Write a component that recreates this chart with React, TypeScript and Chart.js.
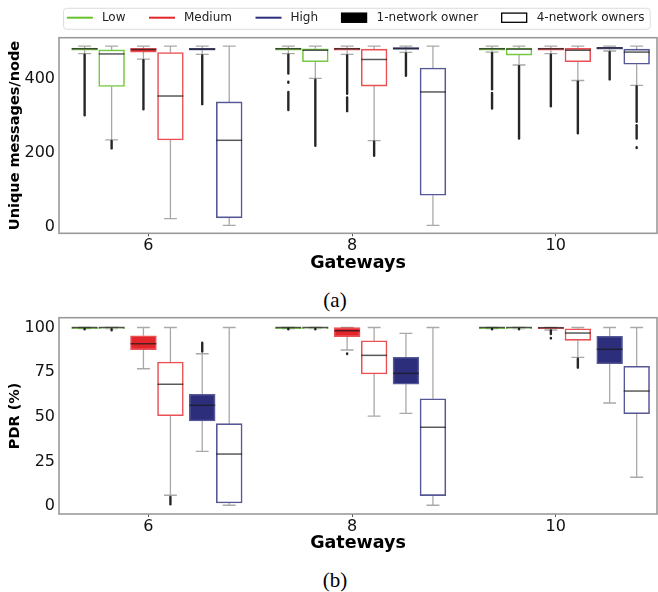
import React, { useEffect, useRef } from 'react';
import { Chart, registerables } from 'chart.js';

Chart.register(...registerables);
Chart.defaults.font.family = "'DejaVu Sans', sans-serif";

// ---------- data ----------
const gateways = [6, 8, 10];
const gatewayTicks = [6, 8, 10];
const msgTicks = [0, 200, 400];
const pdrTicks = [0, 25, 50, 75, 100];

const levelLabels = ['Low', 'Medium', 'High'];
const ownerLabels = ['1-network owner', '4-network owners'];

// rows (6, 8, 10 gateways): [lower whisker, Q1, median, Q3, upper whisker]
// (a) Unique messages/node
const msgLow1 = [[469, 478, 482, 484, 489], [469, 478, 482, 484, 489], [473, 478, 482, 484, 489]];
const msgLow4 = [[235, 380, 468, 479, 489], [402, 447, 478, 482, 489], [438, 465, 481, 484, 489]];
const msgMed1 = [[454, 473, 480, 483, 489], [467, 478, 482, 484, 489], [469, 478, 482, 484, 489]];
const msgMed4 = [[22, 235, 354, 472, 489], [233, 381, 453, 481, 489], [396, 447, 478, 483, 489]];
const msgHigh1 = [[467, 478, 481, 483, 489], [472, 480, 483, 485, 489], [476, 481, 484, 486, 489]];
const msgHigh4 = [[3.5, 24, 234, 338, 489], [3.5, 85, 365, 430, 489], [383, 440, 473, 481, 489]];
// outlier ranges [from, to]
const msgLow1Out = [[[302, 466]], [[415, 466], [390, 393], [316, 365]], [[372, 470], [320, 362]]];
const msgLow4Out = [[[212, 232]], [[219, 398]], [[239, 435]]];
const msgMed1Out = [[[318, 451]], [[360, 464], [313, 350]], [[326, 466]]];
const msgMed4Out = [[], [[192, 230]], [[253, 393]]];
const msgHigh1Out = [[[332, 464]], [[409, 469]], [[399, 473]]];
const msgHigh4Out = [[], [], [[284, 380], [239, 275], [213, 215]]];

// (b) PDR (%)
const pdrLow1 = [[99.4, 99.4, 100, 100, 100], [99.4, 99.4, 100, 100, 100], [99.4, 99.4, 100, 100, 100]];
const pdrLow4 = [[99.4, 99.4, 100, 100, 100], [99.4, 99.4, 100, 100, 100], [99.4, 99.4, 100, 100, 100]];
const pdrMed1 = [[76.9, 87.6, 90.9, 95.4, 100], [87.4, 94.9, 98.2, 99.9, 100], [98.6, 99.4, 99.9, 100, 100]];
const pdrMed4 = [[6, 50.6, 68.2, 80.7, 100], [50.4, 74, 84.4, 92.6, 100], [83.3, 92.8, 96.9, 99.3, 100]];
const pdrHigh1 = [[30.6, 47.6, 56.4, 62.6, 85.3], [51.9, 68.2, 74.3, 83.3, 96.7], [57.7, 79.7, 87.8, 95.1, 100]];
const pdrHigh4 = [[0.4, 1.7, 29.1, 46.1, 100], [0.4, 5.8, 44.1, 60.1, 100], [16.1, 51.7, 64.4, 78.3, 100]];
const pdrLow1Out = [[[99.0, 99.2]], [[99.0, 99.2]], [[99.0, 99.2]]];
const pdrLow4Out = [[[98.5, 99.1]], [[99.0, 99.2]], [[99.0, 99.2]]];
const pdrMed1Out = [[], [[85.1, 85.5]], [[96.3, 98.3], [93.9, 94.2]]];
const pdrMed4Out = [[[1, 5]], [], [[77.5, 82.5]]];
const pdrHigh1Out = [[[86.5, 91.5]], [], []];
const pdrHigh4Out = [[], [], []];

// ---------- styles ----------
const levelColors = ['#66c32c', '#e3262b', '#2c2e7c'];
const levelEdges = ['rgba(102,195,44,0.9)', 'rgba(227,38,43,0.8)', 'rgba(44,46,124,0.8)'];
const PAIR_START = -0.4929;
const PAIR_STEP = 0.5773;
const HALF_PAIR = 0.1325;
const BOX_W = 25.8;

const boxPlugin = {
  id: 'boxDetails',
  beforeDatasetsDraw(chart: any) {
    const { ctx } = chart;
    const y = chart.scales.y;
    ctx.save();
    ctx.strokeStyle = '#a9a9a9';
    ctx.lineWidth = 1.3;
    chart.data.datasets.forEach((ds: any, di: number) => {
      const meta = chart.getDatasetMeta(di);
      meta.data.forEach((el: any, i: number) => {
        const [lo, q1, , q3, hi] = ds.stats[i];
        const cx = el.x;
        const w = el.width;
        ctx.beginPath();
        ctx.moveTo(cx, y.getPixelForValue(q1));
        ctx.lineTo(cx, y.getPixelForValue(lo));
        ctx.moveTo(cx, y.getPixelForValue(q3));
        ctx.lineTo(cx, y.getPixelForValue(hi));
        ctx.moveTo(cx - w / 4, y.getPixelForValue(lo));
        ctx.lineTo(cx + w / 4, y.getPixelForValue(lo));
        ctx.moveTo(cx - w / 4, y.getPixelForValue(hi));
        ctx.lineTo(cx + w / 4, y.getPixelForValue(hi));
        ctx.stroke();
      });
    });
    ctx.restore();
  },
  afterDatasetsDraw(chart: any) {
    const { ctx } = chart;
    const y = chart.scales.y;
    ctx.save();
    chart.data.datasets.forEach((ds: any, di: number) => {
      const meta = chart.getDatasetMeta(di);
      meta.data.forEach((el: any, i: number) => {
        const med = ds.stats[i][2];
        const cx = el.x;
        const w = el.width;
        ctx.strokeStyle = 'rgba(25,25,25,0.72)';
        ctx.lineWidth = 1.5;
        ctx.lineCap = 'butt';
        ctx.beginPath();
        ctx.moveTo(cx - w / 2, y.getPixelForValue(med));
        ctx.lineTo(cx + w / 2, y.getPixelForValue(med));
        ctx.stroke();
        ctx.strokeStyle = 'rgba(0,0,0,0.85)';
        ctx.lineWidth = 2.4;
        ctx.lineCap = 'round';
        (ds.fliers[i] || []).forEach((seg: number[]) => {
          ctx.beginPath();
          ctx.moveTo(cx, y.getPixelForValue(seg[0]));
          ctx.lineTo(cx, y.getPixelForValue(seg[1]));
          ctx.stroke();
        });
      });
    });
    ctx.restore();
  },
};

const framePlugin = {
  id: 'axesFrame',
  afterDraw(chart: any) {
    const { ctx } = chart;
    const { left, top, right, bottom } = chart.chartArea;
    ctx.save();
    ctx.strokeStyle = '#9a9a9a';
    ctx.lineWidth = 1.6;
    ctx.strokeRect(left, top, right - left, bottom - top);
    ctx.restore();
  },
};

const legendItems = [
  { label: levelLabels[0], kind: 'line', color: levelColors[0] },
  { label: levelLabels[1], kind: 'line', color: levelColors[1] },
  { label: levelLabels[2], kind: 'line', color: levelColors[2] },
  { label: ownerLabels[0], kind: 'filled', color: '#000000' },
  { label: ownerLabels[1], kind: 'hollow', color: '#000000' },
];

const legendPlugin = {
  id: 'ownerLegend',
  afterDraw(chart: any) {
    const { ctx } = chart;
    const area = chart.chartArea;
    ctx.save();
    ctx.font = "12px 'DejaVu Sans', sans-serif";
    const sample = 26;
    const gapText = 9;
    const gapItem = 23.5;
    const widths = legendItems.map((it) => sample + gapText + ctx.measureText(it.label).width);
    const total = widths.reduce((a, b) => a + b, 0) + gapItem * (legendItems.length - 1);
    const center = (area.left + area.right) / 2 - 2.3;
    let x = center - total / 2;
    const cy = 17.7;
    const fx = x - 3.3;
    const fw = total + 9;
    const fy = 8.3;
    const fh = 21;
    ctx.beginPath();
    ctx.roundRect(fx, fy, fw, fh, 3);
    ctx.fillStyle = 'rgba(255,255,255,0.8)';
    ctx.fill();
    ctx.strokeStyle = '#dcdcdc';
    ctx.lineWidth = 1;
    ctx.stroke();
    legendItems.forEach((it, i) => {
      if (it.kind === 'line') {
        ctx.strokeStyle = it.color;
        ctx.lineWidth = 2;
        ctx.beginPath();
        ctx.moveTo(x, cy);
        ctx.lineTo(x + sample, cy);
        ctx.stroke();
      } else {
        ctx.fillStyle = it.kind === 'filled' ? '#000' : '#fff';
        ctx.fillRect(x, cy - 4.6, sample - 1, 9.2);
        ctx.strokeStyle = '#000';
        ctx.lineWidth = 1.3;
        ctx.strokeRect(x, cy - 4.6, sample - 1, 9.2);
      }
      ctx.fillStyle = '#222';
      ctx.textBaseline = 'middle';
      ctx.textAlign = 'left';
      ctx.fillText(it.label, x + sample + gapText, cy);
      x += widths[i] + gapItem;
    });
    ctx.restore();
  },
};

function buildDatasets(series: any[][]) {
  return series.map(([stats, fliers], s) => {
    const level = Math.floor(s / 2);
    const owner = s % 2;
    const offset = PAIR_START + level * PAIR_STEP + (owner ? HALF_PAIR : -HALF_PAIR);
    return {
      type: 'bar',
      label: `${levelLabels[level]} ${ownerLabels[owner]}`,
      data: gateways.map((g, i) => ({ x: g + offset, y: [stats[i][1], stats[i][3]] })),
      stats,
      fliers,
      grouped: false,
      barThickness: BOX_W,
      maxBarThickness: BOX_W,
      backgroundColor: owner === 0 ? levelColors[level] : '#ffffff',
      borderColor: levelEdges[level],
      borderWidth: 1.6,
      borderSkipped: false,
    };
  });
}

type Spec = {
  top: number;
  height: number;
  padTop: number;
  xHeight: number;
  xTitlePad: number;
  yMin: number;
  yMax: number;
  yTicks: number[];
  yTitle: string;
  series: any[][];
  legend: boolean;
};

const X_MIN = 5.123;
const X_MAX = 10.994;

function buildConfig(spec: Spec): any {
  const plugins: any[] = [boxPlugin, framePlugin];
  if (spec.legend) plugins.push(legendPlugin);
  return {
    type: 'bar',
    data: { datasets: buildDatasets(spec.series) },
    plugins,
    options: {
      responsive: false,
      devicePixelRatio: 1,
      animation: false,
      events: [],
      layout: { padding: { top: spec.padTop, right: 1, bottom: 0, left: 0 } },
      plugins: { legend: { display: false }, tooltip: { enabled: false }, title: { display: false } },
      scales: {
        x: {
          type: 'linear',
          min: X_MIN,
          max: X_MAX,
          offset: false,
          afterBuildTicks: (s: any) => {
            s.ticks = gatewayTicks.map((v) => ({ value: v }));
          },
          afterFit: (s: any) => {
            s.height = spec.xHeight;
            s.paddingLeft = 0;
            s.paddingRight = 0;
          },
          grid: {
            display: true,
            offset: false,
            drawOnChartArea: false,
            drawTicks: true,
            tickLength: 3,
            tickColor: '#555',
            tickWidth: 1,
          },
          border: { display: false },
          ticks: { font: { size: 16 }, color: '#111', padding: 0, maxRotation: 0, autoSkip: false },
          title: {
            display: true,
            text: 'Gateways',
            color: '#000',
            font: { size: 17.5, weight: 'bold' },
            padding: { top: 0, bottom: spec.xTitlePad },
          },
        },
        y: {
          type: 'linear',
          min: spec.yMin,
          max: spec.yMax,
          afterBuildTicks: (s: any) => {
            s.ticks = spec.yTicks.map((v) => ({ value: v }));
          },
          afterFit: (s: any) => {
            s.width = 59;
            s.paddingTop = 0;
            s.paddingBottom = 0;
          },
          grid: { display: false, drawTicks: false },
          border: { display: false },
          ticks: { font: { size: 16 }, color: '#111', padding: 4 },
          title: {
            display: true,
            text: spec.yTitle,
            color: '#000',
            font: { size: 14.5, weight: 'bold' },
            padding: { top: 6.3, bottom: 0 },
          },
        },
      },
    },
  };
}

const specA: Spec = {
  top: 0,
  height: 282,
  padTop: 37.7,
  xHeight: 48.7,
  xTitlePad: 8.5,
  yMin: -18,
  yMax: 512,
  yTicks: msgTicks,
  yTitle: 'Unique messages/node',
  series: [
    [msgLow1, msgLow1Out],
    [msgLow4, msgLow4Out],
    [msgMed1, msgMed1Out],
    [msgMed4, msgMed4Out],
    [msgHigh1, msgHigh1Out],
    [msgHigh4, msgHigh4Out],
  ],
  legend: true,
};

const specB: Spec = {
  top: 310,
  height: 250,
  padTop: 7.7,
  xHeight: 46,
  xTitlePad: 6.5,
  yMin: -4.5,
  yMax: 105.5,
  yTicks: pdrTicks,
  yTitle: 'PDR (%)',
  series: [
    [pdrLow1, pdrLow1Out],
    [pdrLow4, pdrLow4Out],
    [pdrMed1, pdrMed1Out],
    [pdrMed4, pdrMed4Out],
    [pdrHigh1, pdrHigh1Out],
    [pdrHigh4, pdrHigh4Out],
  ],
  legend: false,
};

function Panel({ spec }: { spec: Spec }) {
  const ref = useRef<HTMLCanvasElement>(null);
  useEffect(() => {
    const chart = new Chart(ref.current as HTMLCanvasElement, buildConfig(spec));
    return () => chart.destroy();
  }, [spec]);
  return (
    <div style={{ position: 'absolute', left: 0, top: spec.top, width: 658, height: spec.height }}>
      <canvas ref={ref} width={658} height={spec.height} style={{ display: 'block' }} />
    </div>
  );
}

function Caption({ text, y }: { text: string; y: number }) {
  return (
    <div
      style={{
        position: 'absolute',
        left: 335,
        top: y,
        transform: 'translate(-50%, -50%)',
        fontFamily: "'Liberation Serif', 'Times New Roman', serif",
        fontSize: 21,
        lineHeight: 1,
        color: '#000',
        whiteSpace: 'nowrap',
      }}
    >
      {text}
    </div>
  );
}

export default function App() {
  return (
    <div style={{ position: 'absolute', left: 0, top: 0, width: 658, height: 592, background: '#fff', overflow: 'hidden' }}>
      <Panel spec={specA} />
      <Caption text="(a)" y={300} />
      <Panel spec={specB} />
      <Caption text="(b)" y={580} />
    </div>
  );
}
